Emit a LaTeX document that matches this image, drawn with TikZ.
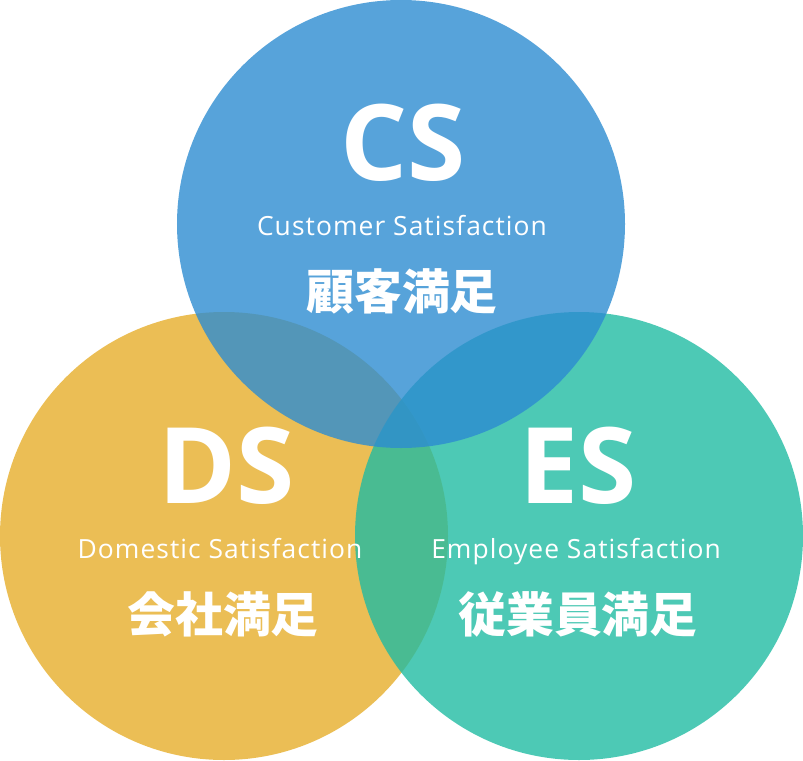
\documentclass[tikz,border=0pt]{standalone}
\usepackage{fontspec}
\setmainfont{Noto Sans CJK JP}
\newfontfamily\jpfont{Noto Sans CJK JP}
\newfontfamily\latinfont{Open Sans}
\newfontfamily\subfont[LetterSpace=4]{Open Sans}
\definecolor{csblue}{RGB}{45,140,209}
\definecolor{dsyellow}{RGB}{235,190,85}
\definecolor{esteal}{RGB}{33,187,162}
\begin{document}
\begin{tikzpicture}[x=1bp,y=-1bp,
  disc/.style={circle,minimum size=448bp,inner sep=0pt,draw=none},
  big/.style={text=white,anchor=base,inner sep=0pt,font=\latinfont\bfseries\fontsize{106}{106}\selectfont},
  sub/.style={text=white,anchor=base,inner sep=0pt,font=\subfont\fontsize{26.5}{26.5}\selectfont},
  jp/.style={text=white,anchor=center,inner sep=0pt,font=\jpfont\bfseries\fontsize{48}{48}\selectfont}]
\useasboundingbox (0,0) rectangle (803,761);
\node[disc,fill=dsyellow] (ds) at (224,536) {};
\node[disc,fill=esteal,fill opacity=0.8] (es) at (579,536) {};
\node[disc,fill=csblue,fill opacity=0.8] (cs) at (401,224) {};
\node[big] (cst) at (403,180) {CS};
\node[sub] (css) at (402,235) {Customer Satisfaction};
\node[jp] (csj) at (402,291) {顧客満足};
\node[big] (dst) at (227,503) {DS};
\node[sub] (dss) at (220,558) {Domestic Satisfaction};
\node[jp] (dsj) at (223,614) {会社満足};
\node[big] (est) at (578,503) {ES};
\node[sub] (ess) at (576,558) {Employee Satisfaction};
\node[jp] (esj) at (578,614) {従業員満足};
\end{tikzpicture}
\end{document}
